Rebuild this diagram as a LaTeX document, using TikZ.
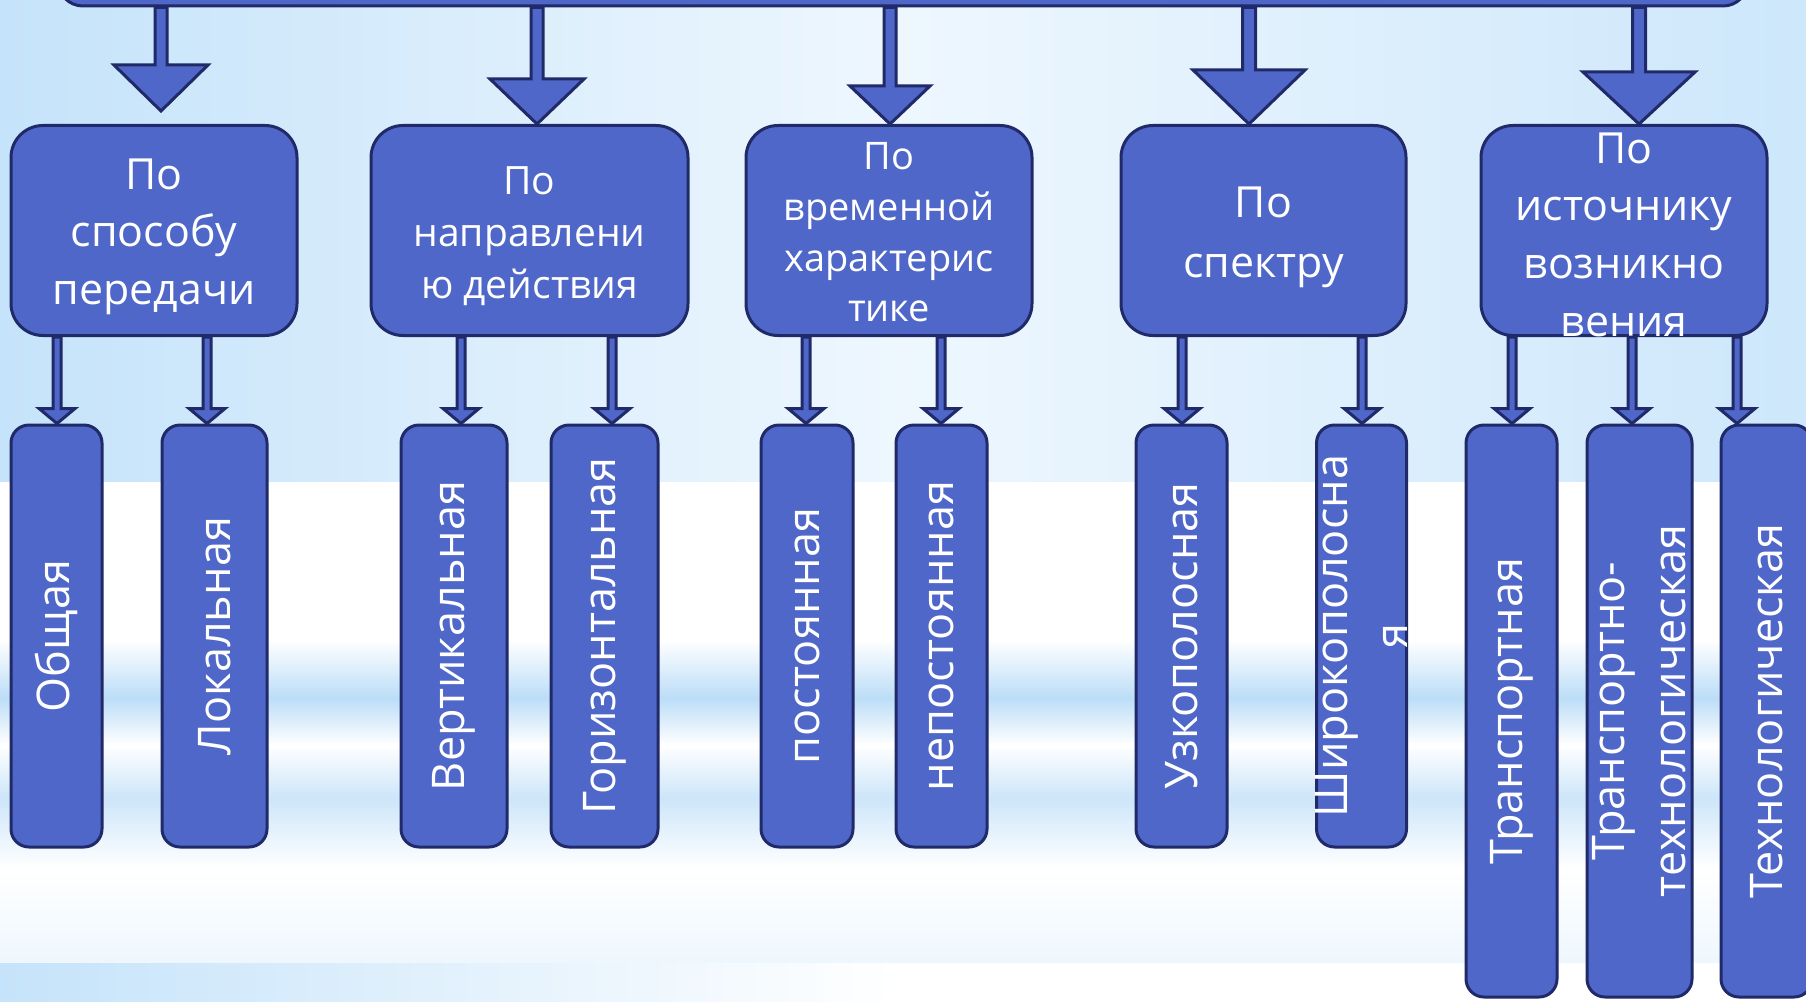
\documentclass[tikz,border=0pt]{standalone}
\usepackage{fontspec}
\setmainfont{Open Sans}
\usepackage{tikz}
\definecolor{bgblue}{RGB}{197,227,250}
\definecolor{bgbluer}{RGB}{205,231,251}
\definecolor{bglight}{RGB}{238,247,254}
\definecolor{streak}{RGB}{188,221,247}
\definecolor{boxblue}{RGB}{79,103,201}
\definecolor{navy}{RGB}{32,42,104}
% block arrow: x, from node, to node, shaft half width, head half width, head length, gap
\newcommand{\blkarrow}[7]{%
\path (#1,0 |- #2.south) coordinate (arrS) (#1,0 |- #3.north) coordinate (arrT);
\filldraw[arr] ([shift={(-#4,0)}]arrS) -- ([shift={(-#4,-#6-#7)}]arrT) -- ([shift={(-#5,-#6-#7)}]arrT)
 -- ([shift={(0,-#7)}]arrT) -- ([shift={(#5,-#6-#7)}]arrT) -- ([shift={(#4,-#6-#7)}]arrT) -- ([shift={(#4,0)}]arrS) -- cycle;}

\begin{document}
\begin{tikzpicture}[x=0.1mm, y=-0.1mm,
 bar/.style={draw=navy, fill=boxblue, line width=0.3mm, rounded corners=2.5mm, minimum width=169mm, minimum height=7.2mm},
 catbox/.style={draw=navy, fill=boxblue, line width=0.3mm, rounded corners=3.2mm, minimum height=21mm},
 subbox/.style={draw=navy, fill=boxblue, line width=0.3mm, rounded corners=1.8mm, minimum height=42.2mm},
 longbox/.style={subbox, minimum height=57.2mm},
 cattxt/.style={text=white, align=center, inner sep=0pt},
 subtxt/.style={text=white, align=center, inner sep=0pt, rotate=90, font=\fontsize{12.8}{17.3}\selectfont},
 arr/.style={draw=navy, fill=boxblue, line width=0.3mm, line join=miter}]
\useasboundingbox (0,0) rectangle (1806,1001);
\clip (0,0) rectangle (1806,1001);
%%%%% Background %%%%%
\shade[left color=bgblue, right color=bgbluer, middle color=bglight] (0,0) rectangle (1806,482);
\fill[white] (0,482) rectangle (1806,640);
\shade[top color=white, bottom color=streak] (0,640) rectangle (1806,698);
\shade[top color=streak, bottom color=white] (0,698) rectangle (1806,745);
\shade[top color=white, bottom color=streak!75] (0,745) rectangle (1806,798);
\shade[top color=streak!75, bottom color=white] (0,798) rectangle (1806,868);
\shade[top color=white, bottom color=bglight] (0,868) rectangle (1806,963);
\shade[left color=bgblue, right color=white] (0,963) rectangle (900,1001);
\fill[white] (900,963) rectangle (1806,1001);
%%%%% Boxes %%%%%
\node[bar] (top) at (903,-30) {};
\node[catbox, minimum width=28.6mm] (b1) at (154,230.5) {};
\node[catbox, minimum width=31.7mm] (b2) at (529.5,230.5) {};
\node[catbox, minimum width=28.6mm] (b3) at (889,230.5) {};
\node[catbox, minimum width=28.5mm] (b4) at (1263.5,230.5) {};
\node[catbox, minimum width=28.6mm] (b5) at (1624,230.5) {};
\node[cattxt, font=\fontsize{12.2}{16.4}\selectfont] (t1) at ([yshift=-0.6mm]b1) {По\\способу\\передачи};
\node[cattxt, font=\fontsize{11.1}{14.8}\selectfont] (t2) at ([yshift=-0.6mm]b2) {По\\направлени\\ю действия};
\node[cattxt, font=\fontsize{10.8}{14.4}\selectfont] (t3) at ([yshift=-0.2mm]b3) {По\\временной\\характерис\\тике};
\node[cattxt, font=\fontsize{12.2}{17}\selectfont] (t4) at ([yshift=-0.7mm]b4) {По\\спектру};
\node[cattxt, font=\fontsize{12.2}{16.4}\selectfont] (t5) at ([yshift=-0.4mm]b5) {По\\источнику\\возникно\\вения};
\foreach \n/\x/\w in {c1/56.5/9.1, c2/214.5/10.5, c3/454/10.6, c4/604.5/10.7, c5/807/9.2, c6/941.5/9.1, c7/1181.5/9.1, c8/1361.5/9.0}
 \node[subbox, minimum width=\w mm] (\n) at (\x,636) {};
\foreach \n/\x/\w in {c9/1511.5/9.1, c10/1639.5/10.5, c11/1766.5/9.1}
 \node[longbox, minimum width=\w mm] (\n) at (\x,711) {};
\node[subtxt] at (c1) {Общая};
\node[subtxt] at (c2) {Локальная};
\node[subtxt] at (c3) {Вертикальная};
\node[subtxt] at (c4) {Горизонтальная};
\node[subtxt] at (c5) {постоянная};
\node[subtxt] at (c6) {непостоянная};
\node[subtxt] at (c7) {Узкополосная};
\node[subtxt] at (c8) {Широкополосна\\я};
\node[subtxt] at (c9) {Транспортная};
\node[subtxt] at (c10) {Транспортно-\\технологическая};
\node[subtxt] at (c11) {Технологическая};
%%%%% Arrows %%%%%
\blkarrow{161}{top}{b1}{6}{47}{46}{13}
\blkarrow{537}{top}{b2}{6}{47}{45}{0}
\blkarrow{890}{top}{b3}{6}{40}{38}{0}
\blkarrow{1249}{top}{b4}{6.5}{56}{54}{0}
\blkarrow{1639}{top}{b5}{6.5}{56}{52}{0}
\foreach \x/\a/\b in {57/b1/c1, 207/b1/c2, 461/b2/c3, 612/b2/c4, 806/b3/c5, 941/b3/c6, 1182/b4/c7, 1362/b4/c8, 1512/b5/c9, 1632/b5/c10, 1737/b5/c11}
 {\blkarrow{\x}{\a}{\b}{4}{18}{15}{0}}
\end{tikzpicture}
\end{document}
